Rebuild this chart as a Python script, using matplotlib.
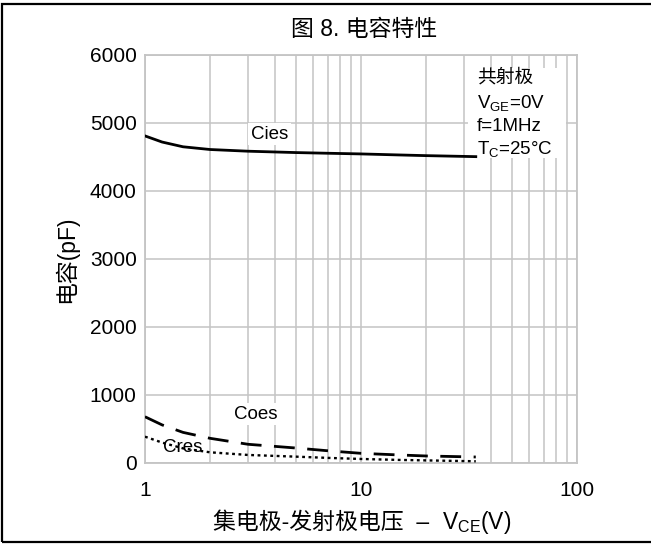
import matplotlib
matplotlib.use('Agg')
import matplotlib.pyplot as plt
from matplotlib.patches import Rectangle
from matplotlib.ticker import FixedLocator, NullFormatter
from matplotlib.offsetbox import TextArea, HPacker, AnchoredOffsetbox

plt.rcParams['font.family'] = ['Liberation Sans', 'Noto Sans CJK SC', 'DejaVu Sans']
plt.rcParams['mathtext.fontset'] = 'custom'
plt.rcParams['mathtext.rm'] = 'Liberation Sans'
plt.rcParams['mathtext.it'] = 'Liberation Sans'

# values
vce = [1, 1.2, 1.5, 2, 3, 5, 7, 10, 15, 20, 34]
cies = [4810, 4720, 4650, 4610, 4585, 4565, 4555, 4545, 4530, 4520, 4505]
coes = [680, 560, 450, 363, 275, 220, 180, 142, 118, 103, 88]
cres = [387, 300, 215, 157, 118, 93, 75, 59, 45, 38, 25]

y_ticks = [0, 1000, 2000, 3000, 4000, 5000, 6000]
x_ticks = [1, 10, 100]
x_minor = [2, 3, 4, 5, 6, 7, 8, 9, 20, 30, 40, 50, 60, 70, 80, 90]

grid_col = '#c4c4c4'

fig = plt.figure(figsize=(6.51, 5.45), dpi=100)
ax = fig.add_axes([0.2227, 0.1505, 0.6636, 0.7486])

ax.set_xscale('log')
ax.set_xlim(1, 100)
ax.set_ylim(0, 6000)

ax.xaxis.set_major_locator(FixedLocator(x_ticks))
ax.xaxis.set_minor_locator(FixedLocator(x_minor))
ax.xaxis.set_minor_formatter(NullFormatter())
ax.set_xticklabels(['1', '10', '100'])
ax.set_yticks(y_ticks)
ax.set_yticklabels([str(v) for v in y_ticks])

ax.tick_params(which='both', length=0, labelsize=15)
ax.tick_params(axis='x', pad=13)
ax.tick_params(axis='y', pad=6)

ax.grid(True, which='both', color=grid_col, linewidth=1.1)
for s in ax.spines.values():
    s.set_color(grid_col)
    s.set_linewidth(1.3)
ax.set_axisbelow(True)

ax.plot(vce, cies, color='black', linewidth=2.0, zorder=4)
ax.plot(vce, coes, color='black', linewidth=2.0, dashes=(7.5, 4.5), zorder=4)
ax.plot(vce, cres, color='black', linewidth=1.7, dashes=(1.2, 1.5), zorder=4)

box = dict(facecolor='white', edgecolor='none', pad=2)
ax.text(0.289, 0.806, 'Cies', transform=ax.transAxes, fontsize=13.5,
        ha='center', va='center', bbox=box, zorder=3)
ax.text(0.257, 0.120, 'Coes', transform=ax.transAxes, fontsize=13.5,
        ha='center', va='center', bbox=box, zorder=3)
ax.text(0.088, 0.039, 'Cres', transform=ax.transAxes, fontsize=13.5,
        ha='center', va='center', zorder=3)

# conditions block
ax.add_patch(Rectangle((0.748, 0.748), 0.227, 0.22, transform=ax.transAxes,
                       facecolor='white', edgecolor='none', zorder=2))
cond = ['共射极', r'V$_{\mathrm{GE}}$=0V', 'f=1MHz', r'T$_{\mathrm{C}}$=25°C']
cond_y = [0.944, 0.882, 0.824, 0.770]
for t, yy in zip(cond, cond_y):
    ax.text(0.768, yy, t, transform=ax.transAxes, fontsize=13.5,
            ha='left', va='center', zorder=3)

fig.text(0.559, 0.945, '图 8. 电容特性', fontsize=16.5, ha='center', va='center')
fig.text(0.101, 0.525, '电容(pF)', fontsize=16.5, ha='center', va='center', rotation=90)

# x label: CJK part as plain text, V_CE part with mathtext subscript
ta1 = TextArea('集电极-发射极电压  –  ', textprops=dict(fontsize=16.5))
ta2 = TextArea(r'V$_{\mathrm{CE}}$(V)', textprops=dict(fontsize=16.5))
pack = HPacker(children=[ta1, ta2], align='baseline', pad=0, sep=0)
ab = AnchoredOffsetbox(loc='center', child=pack, bbox_to_anchor=(0.556, 0.042),
                       bbox_transform=fig.transFigure, frameon=False, pad=0, borderpad=0)
fig.add_artist(ab)

# outer frame
fig.patches.append(Rectangle((0.003, 0.0055), 1.2, 0.987, transform=fig.transFigure,
                             facecolor='none', edgecolor='black', linewidth=1.6))

fig.savefig('out.png', dpi=100)
